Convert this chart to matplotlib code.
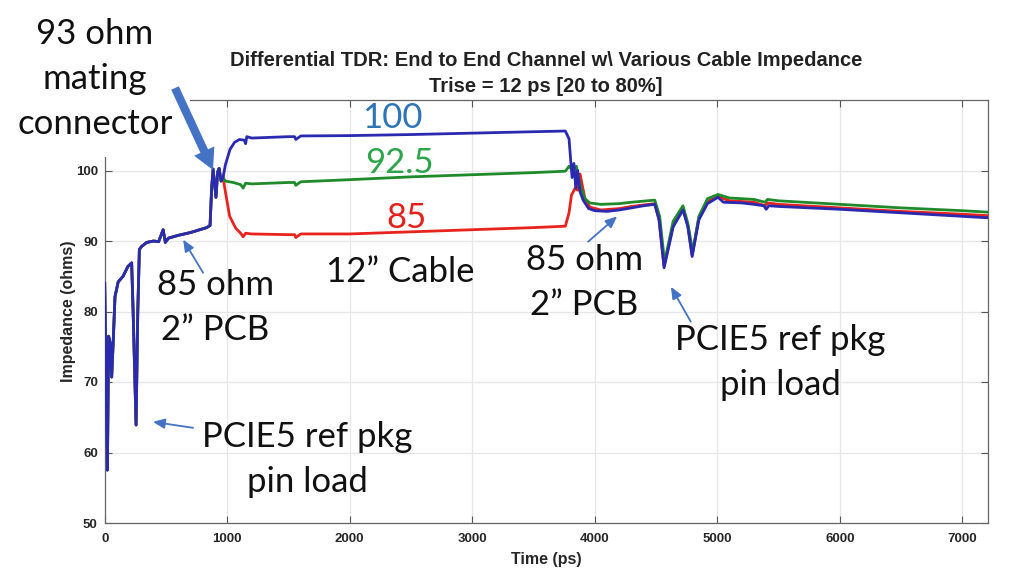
import matplotlib
matplotlib.use("Agg")
import matplotlib.pyplot as plt
from matplotlib.patches import Rectangle, FancyArrowPatch
import numpy as np

# ---------------- data ----------------
# shared launch / 2" PCB / connector section (identical for all three cables)
t_common = [0, 12, 22, 32, 45, 57, 70, 84, 110, 150, 190, 220, 232, 256, 270, 283, 300, 343,
            400, 440, 477, 495, 520, 600, 700, 832, 860, 873, 885, 908, 922, 934, 950, 966]
z_common = [84.0, 70.0, 57.5, 76.5, 75.5, 70.7, 76.0, 82.1, 84.2, 85.0, 86.4, 86.9, 80.0, 63.9, 80.0, 88.8, 89.2, 89.8,
            90.0, 89.9, 91.6, 89.8, 90.4, 90.8, 91.2, 91.9, 92.2, 97.5, 100.2, 96.2, 99.8, 100.3, 98.5, 99.0]

# 100 ohm cable
t_100 = [966, 985, 1023, 1060, 1100, 1140, 1150, 1160, 1200, 1500, 1550, 1560, 1600, 2000, 2500, 3000, 3500, 3760,
         3790, 3815, 3830, 3845, 3860, 3880, 3905, 3950, 4000, 4100, 4200, 4300, 4400, 4490, 4525, 4566, 4640,
         4720, 4760, 4795, 4850, 4920, 5006, 5050, 5200, 5300, 5380, 5400, 5420, 5500, 6000, 6500, 7000, 7200]
z_100 = [99.0, 100.8, 103.0, 104.0, 104.4, 104.3, 103.8, 104.8, 104.6, 104.8, 104.8, 104.4, 104.9, 104.95, 105.1, 105.3, 105.5, 105.6,
         104.5, 99.0, 101.0, 97.5, 100.0, 97.0, 95.8, 94.6, 94.3, 94.2, 94.4, 94.7, 95.0, 95.2, 93.0, 86.2, 92.0,
         94.4, 92.0, 87.8, 93.0, 95.3, 96.2, 95.5, 95.4, 95.2, 95.0, 94.5, 95.0, 94.9, 94.5, 94.0, 93.5, 93.3]

# 92.5 ohm cable
t_925 = [966, 985, 1050, 1110, 1130, 1150, 1200, 1500, 1550, 1560, 1600, 2000, 2500, 3000, 3500, 3760,
         3790, 3820, 3850, 3880, 3920, 3960, 4050, 4200, 4300, 4490, 4530, 4570, 4640,
         4720, 4760, 4800, 4850, 4920, 5006, 5100, 5300, 5390, 5410, 5500, 6000, 6500, 7000, 7200]
z_925 = [99.0, 98.5, 98.3, 98.0, 97.5, 98.2, 98.1, 98.3, 98.3, 97.9, 98.4, 98.7, 99.1, 99.4, 99.7, 99.9,
         100.6, 100.0, 100.6, 98.0, 96.0, 95.4, 95.2, 95.3, 95.5, 95.8, 93.5, 87.0, 92.8,
         95.0, 92.5, 88.5, 93.5, 96.0, 96.6, 96.1, 95.9, 95.5, 95.9, 95.7, 95.2, 94.7, 94.3, 94.1]

# 85 ohm cable
t_85 = [966, 985, 1020, 1070, 1110, 1130, 1150, 1200, 1500, 1550, 1560, 1600, 2000, 2500, 3000, 3500, 3760,
        3790, 3810, 3840, 3860, 3880, 3920, 3960, 4050, 4200, 4300, 4490, 4525, 4566, 4640,
        4720, 4760, 4795, 4850, 4920, 5006, 5100, 5300, 5390, 5410, 5500, 6000, 6500, 7000, 7200]
z_85 = [99.0, 97.0, 93.5, 91.8, 91.1, 90.6, 91.1, 91.0, 90.9, 90.9, 90.5, 91.0, 91.0, 91.3, 91.6, 91.9, 92.1,
        94.0, 96.5, 97.5, 97.2, 99.5, 96.0, 94.8, 94.4, 94.6, 94.9, 95.3, 93.0, 86.4, 92.2,
        94.7, 92.2, 88.0, 93.3, 95.6, 96.3, 95.7, 95.5, 95.0, 95.4, 95.2, 94.7, 94.2, 93.8, 93.6]

x_ticks = [0, 1000, 2000, 3000, 4000, 5000, 6000, 7000]
y_ticks = [50, 60, 70, 80, 90, 100]

# ---------------- figure ----------------
W, H = 1024, 585
fig = plt.figure(figsize=(W / 100, H / 100), dpi=100)
ax = fig.add_axes([104.7 / W, 1 - 523 / H, (988 - 104.7) / W, (523 - 100) / H])

ann_font = ["Lato", "DejaVu Sans"]
tick_font = ["Liberation Sans", "DejaVu Sans"]
ann_size = 25
ann_ls = 1.5

c_blue, c_green, c_red = "#2a2ab0", "#1f8a2a", "#e8231d"
ax.plot(t_common + t_85, z_common + z_85, color=c_red, lw=2.0, zorder=3)
ax.plot(t_common + t_925, z_common + z_925, color=c_green, lw=2.0, zorder=4)
ax.plot(t_common + t_100, z_common + z_100, color=c_blue, lw=2.0, zorder=5)

ax.set_xlim(0, 7210)
ax.set_ylim(50, 110)
ax.set_xticks(x_ticks)
ax.set_yticks(y_ticks)
ax.grid(True, color="#e6e6e6", lw=0.9)
ax.set_axisbelow(True)
ax.tick_params(direction="in", length=5, width=0.8, color="#555555", top=True, right=True,
               labelsize=9.5, labelcolor="#262626")
ax.tick_params(axis="x", pad=7)
ax.tick_params(axis="y", pad=5)
for lab in ax.get_xticklabels() + ax.get_yticklabels():
    lab.set_family(tick_font)
    lab.set_fontweight("bold")
for s in ax.spines.values():
    s.set_color("#666666")
    s.set_linewidth(0.9)

ax.set_xlabel("Time (ps)", family=tick_font, fontsize=11.5, fontweight="bold", color="#262626", labelpad=5)
ax.set_ylabel("Impedance (ohms)", family=tick_font, fontsize=11.5, fontweight="bold", color="#262626")
ax.yaxis.set_label_coords(-0.0325, 0.5)

fig.text(546 / W, 1 - 60 / H, "Differential TDR: End to End Channel w\\ Various Cable Impedance",
         ha="center", va="center", family=tick_font, fontsize=14.5, fontweight="bold", color="#222222")
fig.text(546 / W, 1 - 86 / H, "Trise = 12 ps [20 to 80%]",
         ha="center", va="center", family=tick_font, fontsize=14.5, fontweight="bold", color="#222222")

# white patch covering the axes corner behind the connector note
fig.patches.append(Rectangle((0, 1 - 157 / H), 190 / W, 157 / H, transform=fig.transFigure,
                             facecolor="white", edgecolor="none", zorder=1))
fig.text(95 / W, 1 - 79 / H, "93 ohm\nmating\nconnector", ha="center", va="center",
         family=ann_font, fontsize=ann_size, linespacing=ann_ls, color="#111111", zorder=3)
big_arrow = FancyArrowPatch(posA=(175 / W, 1 - 88 / H), posB=(213 / W, 1 - 170 / H),
                            transform=fig.transFigure,
                            arrowstyle="simple,head_length=0.75,head_width=0.8,tail_width=0.3",
                            mutation_scale=20, facecolor="#4472c4", edgecolor="none",
                            shrinkA=0, shrinkB=0, zorder=6)
fig.add_artist(big_arrow)

# cable value labels
ax.text(2345, 107.5, "100", color="#2e75b6", family=ann_font, fontsize=ann_size, ha="center", va="center", zorder=6)
ax.text(2403, 101.1, "92.5", color="#2ea44b", family=ann_font, fontsize=ann_size, ha="center", va="center", zorder=6)
ax.text(2460, 93.3, "85", color="#e3201b", family=ann_font, fontsize=ann_size, ha="center", va="center", zorder=6)
ax.text(2410, 85.65, "12\u201d Cable", color="#111111", family=ann_font, fontsize=ann_size, ha="center", va="center", zorder=6)

arrow_kw = dict(arrowstyle="-|>,head_length=0.7,head_width=0.3", color="#4472c4", lw=1.3,
                shrinkA=0, shrinkB=0)

ax.text(901, 80.5, "85 ohm\n2\u201d PCB", color="#111111", family=ann_font, fontsize=ann_size,
        ha="center", va="center", linespacing=ann_ls, zorder=6)
ax.annotate("", xy=(640, 90.2), xytext=(803, 85.5), arrowprops=arrow_kw, zorder=7)

ax.text(3914, 84.1, "85 ohm\n2\u201d PCB", color="#111111", family=ann_font, fontsize=ann_size,
        ha="center", va="center", linespacing=ann_ls, zorder=6)
ax.annotate("", xy=(4183, 93.5), xytext=(3946, 89.9), arrowprops=arrow_kw, zorder=7)

ax.text(5512, 72.7, "PCIE5 ref pkg\npin load", color="#111111", family=ann_font, fontsize=ann_size,
        ha="center", va="center", linespacing=ann_ls, zorder=6)
ax.annotate("", xy=(4622, 83.5), xytext=(4784, 78.55), arrowprops=arrow_kw, zorder=7)

ax.text(1651, 59.0, "PCIE5 ref pkg\npin load", color="#111111", family=ann_font, fontsize=ann_size,
        ha="center", va="center", linespacing=ann_ls, zorder=6)
ax.annotate("", xy=(394, 64.35), xytext=(721, 63.5), arrowprops=arrow_kw, zorder=7)

fig.savefig("out.png", dpi=100, facecolor="white")
